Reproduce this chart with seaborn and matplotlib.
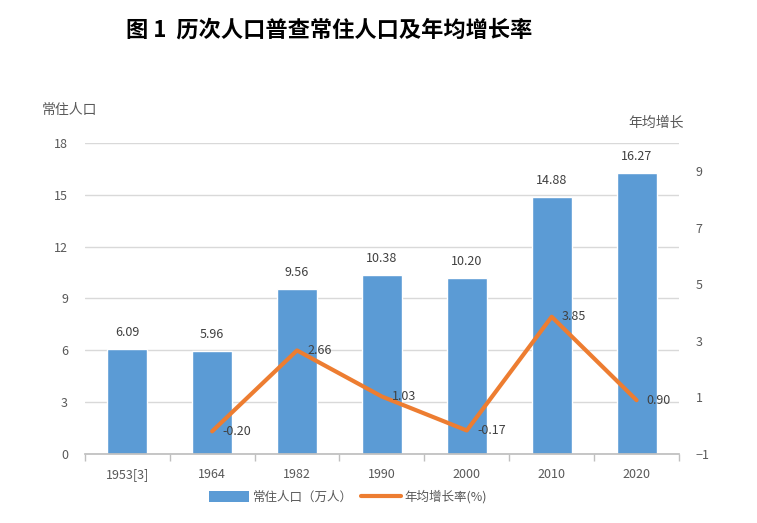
import numpy as np
import pandas as pd
import seaborn as sns
import matplotlib.pyplot as plt
from matplotlib.patches import Patch
from matplotlib.lines import Line2D

years = ['1953[3]', '1964', '1982', '1990', '2000', '2010', '2020']
population = [6.09, 5.96, 9.56, 10.38, 10.20, 14.88, 16.27]
growth_years = ['1964', '1982', '1990', '2000', '2010', '2020']
growth_rate = [-0.20, 2.66, 1.03, -0.17, 3.85, 0.90]

sns.set_theme(style='white')
plt.rcParams['font.family'] = ['Noto Sans CJK SC', 'DejaVu Sans']

bar_color = '#5B9BD5'
line_color = '#ED7D31'
text_color = '#595959'

df = pd.DataFrame({'year': years, 'pop': population})
gx = [years.index(y) for y in growth_years]
gdf = pd.DataFrame({'x': gx, 'rate': growth_rate})

fig = plt.figure(figsize=(7.57, 5.23), dpi=100)
ax = fig.add_axes([0.112, 0.132, 0.785, 0.595])

sns.barplot(data=df, x='year', y='pop', color=bar_color, width=0.47,
            saturation=1, ax=ax, zorder=2)
ax.set_ylim(0, 18)
ax.set_yticks(np.arange(0, 19, 3))
ax.set_xlim(-0.5, len(years) - 0.5)
ax.grid(axis='y', color='#D9D9D9', linewidth=1, zorder=0)
ax.set_axisbelow(True)
for s in ['top', 'left', 'right']:
    ax.spines[s].set_visible(False)
ax.spines['bottom'].set_color('#BFBFBF')
ax.set_xlabel('')
ax.set_ylabel('')
ax.tick_params(axis='x', length=0, pad=10, labelsize=9, labelcolor=text_color)
ax.tick_params(axis='y', length=0, pad=12, labelsize=9, labelcolor=text_color)
ax.set_xticks(np.arange(-0.5, len(years)), minor=True)
ax.tick_params(axis='x', which='minor', length=5, color='#BFBFBF', direction='out', bottom=True)

for i, v in enumerate(population):
    ax.text(i, v + 0.55, f'{v:.2f}', ha='center', va='bottom', fontsize=9, color='#404040')

ax2 = ax.twinx()
sns.lineplot(data=gdf, x='x', y='rate', color=line_color, linewidth=3, ax=ax2,
             zorder=3)
ax2.set_ylim(-1, 10)
ax2.set_yticks(np.arange(-1, 10, 2))
ax2.set_xlim(-0.5, len(years) - 0.5)
for s in ['top', 'left', 'right', 'bottom']:
    ax2.spines[s].set_visible(False)
ax2.set_xlabel('')
ax2.set_ylabel('')
ax2.tick_params(axis='y', length=0, pad=12, labelsize=9, labelcolor=text_color)
ax2.grid(False)
for x, r in zip(gx, growth_rate):
    ax2.text(x + 0.12, r, f'{r:.2f}', ha='left', va='center', fontsize=9, color='#404040')

fig.text(0.435, 0.943, '图 1  历次人口普查常住人口及年均增长率', ha='center', va='center',
         fontsize=16, fontweight='bold', color='black')
fig.text(0.055, 0.79, '常住人口', ha='left', va='center', fontsize=10, color=text_color)
fig.text(0.83, 0.765, '年均增长', ha='left', va='center', fontsize=10, color=text_color)

handles = [Patch(facecolor=bar_color, edgecolor='none'),
           Line2D([0], [0], color=line_color, linewidth=3)]
fig.legend(handles, ['常住人口（万人）', '年均增长率(%)'], loc='center',
           bbox_to_anchor=(0.46, 0.05), ncol=2, frameon=False, fontsize=9,
           handlelength=3.2, handleheight=0.9, columnspacing=0.6, handletextpad=0.3,
           labelcolor=text_color)

fig.savefig('out.png', dpi=100)
